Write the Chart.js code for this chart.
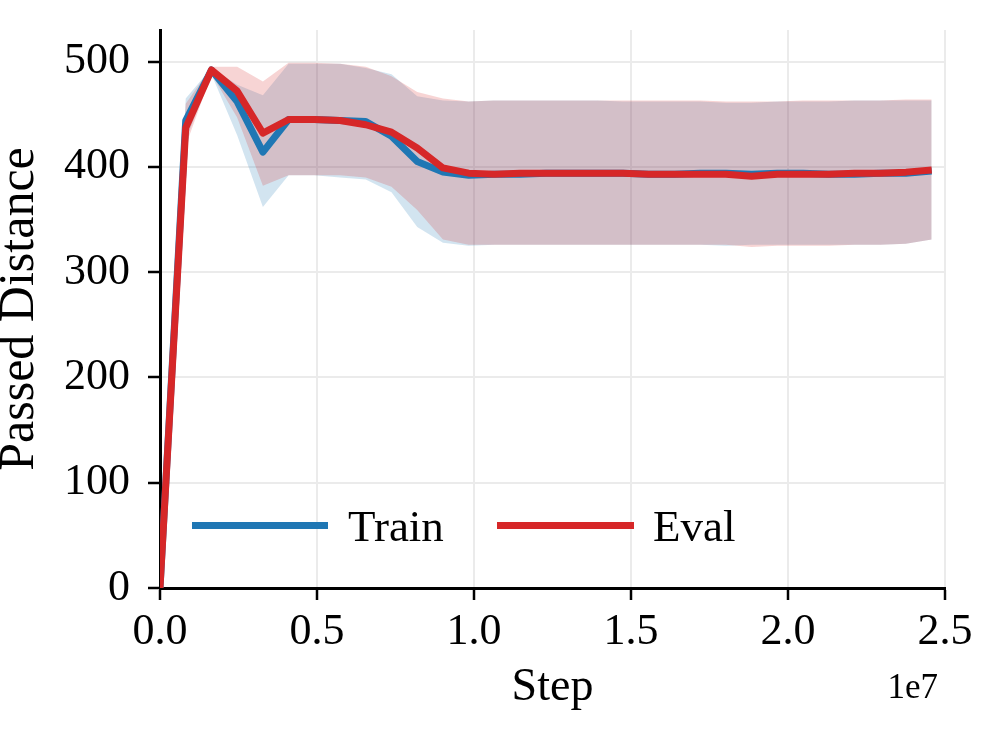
<!DOCTYPE html>
<html>
<head>
<meta charset="utf-8">
<script src="https://cdn.jsdelivr.net/npm/chart.js@4.4.0/dist/chart.umd.min.js"></script>
<style>
  html, body { margin: 0; padding: 0; background: #fff; }
  #wrap { width: 1002px; height: 750px; }
</style>
</head>
<body>
<div id="wrap"><canvas id="myChart" width="1002" height="750"></canvas></div>
<script>
const steps = [0, 819200, 1638400, 2457600, 3276800, 4096000, 4915200, 5734400, 6553600, 7372800,
  8192000, 9011200, 9830400, 10649600, 11468800, 12288000, 13107200, 13926400, 14745600, 15564800,
  16384000, 17203200, 18022400, 18841600, 19660800, 20480000, 21299200, 22118400, 22937600, 23756800, 24576000]

const trainMean  = [0, 444, 492, 462, 414, 445, 445, 444, 443, 429, 405, 395, 392, 393, 393, 394, 394, 394, 394, 393, 393, 394, 394, 393, 394, 394, 393, 393, 394, 394, 396]
const trainUpper = [0, 465, 494, 478, 468, 498, 498, 498, 494, 488, 467, 463, 462, 463, 463, 463, 463, 463, 462, 462, 462, 462, 461, 461, 462, 462, 462, 463, 463, 463, 463]
const trainLower = [0, 425, 488, 430, 362, 392, 392, 390, 388, 376, 343, 328, 325, 326, 326, 326, 326, 326, 326, 326, 326, 326, 325, 326, 326, 326, 326, 326, 326, 327, 331]

const evalMean  = [0, 437, 492, 472, 432, 445, 445, 444, 440, 433, 418, 399, 394, 393, 394, 394, 394, 394, 394, 393, 393, 393, 393, 391, 393, 393, 393, 394, 394, 395, 397]
const evalUpper = [0, 460, 495, 495, 481, 499, 499, 498, 495, 486, 471, 465, 462, 463, 463, 463, 463, 463, 463, 463, 463, 463, 462, 462, 462, 463, 463, 463, 463, 464, 464]
const evalLower = [0, 420, 488, 447, 382, 392, 392, 392, 390, 381, 359, 331, 326, 326, 326, 326, 326, 326, 326, 326, 326, 326, 326, 324, 325, 325, 325, 326, 326, 327, 331]

const xTicks = [0, 5000000, 10000000, 15000000, 20000000, 25000000]
const yTicks = [0, 100, 200, 300, 400, 500]

const blue = '#1f77b4'
const red = '#d62728'
const serif = "'Liberation Serif', 'Times New Roman', serif"

function pts(ys) {
  return steps.map((s, i) => ({x: s, y: ys[i]}))
}

// legend + offset label drawn by hand, matplotlib style
const extras = {
  id: 'extras',
  afterDraw(chart) {
    const ctx = chart.ctx
    ctx.save()
    ctx.lineWidth = 7
    ctx.lineCap = 'butt'
    ctx.strokeStyle = blue
    ctx.beginPath(); ctx.moveTo(192, 525.5); ctx.lineTo(328, 525.5); ctx.stroke()
    ctx.strokeStyle = red
    ctx.beginPath(); ctx.moveTo(497, 525.5); ctx.lineTo(634, 525.5); ctx.stroke()
    ctx.fillStyle = '#000'
    ctx.font = '45px ' + serif
    ctx.textBaseline = 'alphabetic'
    ctx.textAlign = 'left'
    ctx.fillText('Train', 348, 541)
    ctx.fillText('Eval', 653, 541)
    ctx.font = '35px ' + serif
    ctx.textAlign = 'right'
    ctx.fillText('1e7', 938, 698)
    ctx.restore()
  }
}

function createChart() {
  const ctx = document.getElementById('myChart')
  new Chart(ctx, {
    type: 'line',
    data: {
      datasets: [
        { label: 'Train upper', data: pts(trainUpper), borderWidth: 0, pointRadius: 0,
          backgroundColor: 'rgba(31,119,180,0.2)', fill: '+1', order: 3 },
        { label: 'Train lower', data: pts(trainLower), borderWidth: 0, pointRadius: 0, fill: false, order: 3 },
        { label: 'Eval upper', data: pts(evalUpper), borderWidth: 0, pointRadius: 0,
          backgroundColor: 'rgba(214,39,40,0.2)', fill: '+1', order: 2 },
        { label: 'Eval lower', data: pts(evalLower), borderWidth: 0, pointRadius: 0, fill: false, order: 2 },
        { label: 'Train', data: pts(trainMean), borderColor: blue, borderWidth: 7,
          pointRadius: 0, fill: false, borderJoinStyle: 'round', order: 1 },
        { label: 'Eval', data: pts(evalMean), borderColor: red, borderWidth: 7,
          pointRadius: 0, fill: false, borderJoinStyle: 'round', order: 0 }
      ]
    },
    options: {
      responsive: false,
      animation: false,
      layout: { padding: { top: 30, right: 57, left: 0, bottom: 0 } },
      plugins: { legend: { display: false }, tooltip: { enabled: false } },
      scales: {
        x: {
          type: 'linear',
          min: 0,
          max: 25000000,
          afterBuildTicks: (scale) => { scale.ticks = xTicks.map(v => ({value: v})) },
          afterFit: (scale) => { scale.height = 162; scale.paddingLeft = 0; scale.paddingRight = 0 },
          ticks: {
            color: '#000',
            font: { family: serif, size: 44 },
            padding: 6,
            maxRotation: 0,
            callback: (v) => (v / 1e7).toFixed(1)
          },
          grid: { color: '#ebebeb', lineWidth: 2, tickLength: 12, tickColor: '#000', tickWidth: 2.5 },
          border: { color: '#000', width: 3 },
          title: { display: true, text: 'Step', color: '#000',
                   font: { family: serif, size: 46, lineHeight: 1.2 }, padding: { top: 0, bottom: 34 } }
        },
        y: {
          min: 0,
          max: 530,
          afterBuildTicks: (scale) => { scale.ticks = yTicks.map(v => ({value: v})) },
          afterFit: (scale) => { scale.width = 160; scale.paddingTop = 0; scale.paddingBottom = 0 },
          ticks: {
            color: '#000',
            font: { family: serif, size: 44 },
            padding: 18
          },
          grid: { color: '#ebebeb', lineWidth: 2, tickLength: 12, tickColor: '#000', tickWidth: 2.5 },
          border: { color: '#000', width: 3 },
          title: { display: true, text: 'Passed Distance', color: '#000',
                   font: { family: serif, size: 50, lineHeight: 0.8 }, padding: { top: 0, bottom: 0 } }
        }
      }
    },
    plugins: [extras]
  })
}

createChart()
</script>
</body>
</html>
